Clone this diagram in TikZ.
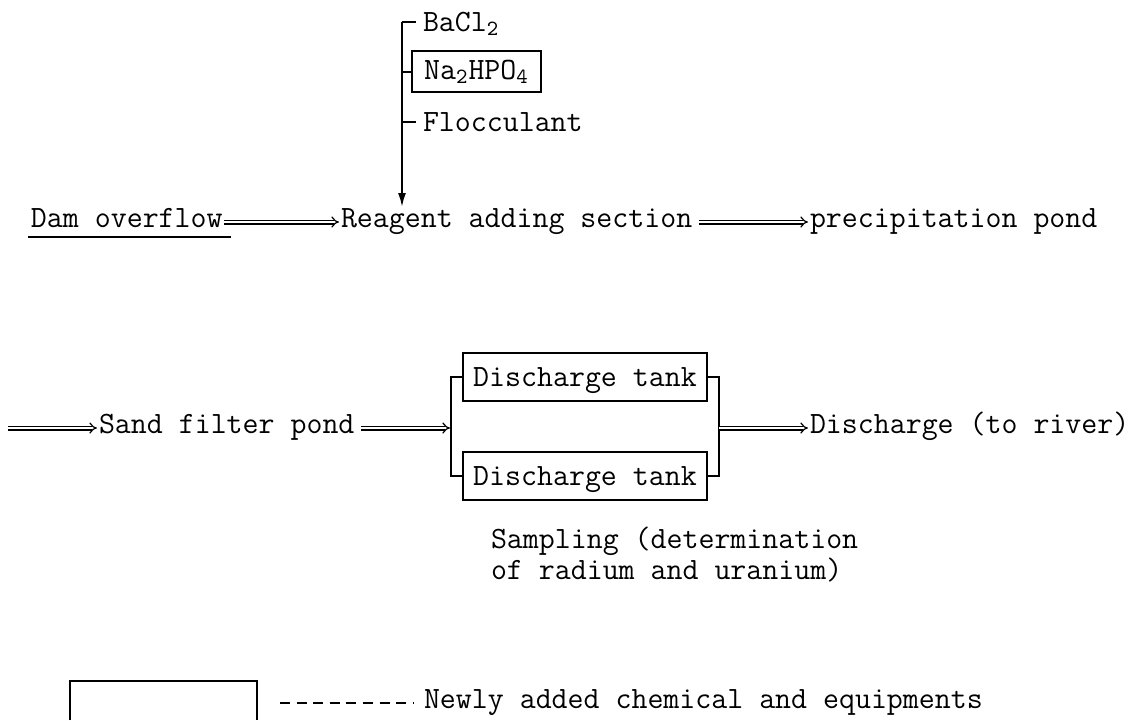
\documentclass[tikz,border=0pt]{standalone}
\usetikzlibrary{arrows.meta}

\begin{document}
\begin{tikzpicture}[x=0.5pt,y=-0.5pt,line width=1pt,
  font=\ttfamily\fontsize{15.5}{14}\selectfont,
  txt/.style={inner sep=0pt,text height=9.5pt,text depth=4.5pt,anchor=west},
  lbl/.style={inner ysep=0pt,inner xsep=3pt,text height=9.5pt,text depth=0pt,anchor=west},
  tank/.style={draw,inner sep=0pt,text height=9.5pt,text depth=0pt,
    minimum width=122pt,minimum height=24pt},
  flow/.style={double,double distance=1.3pt,line width=0.6pt,-{Implies},shorten >=0.5pt}]
  \useasboundingbox (0,0) rectangle (1142,720);

  % Reagents fed from the top
  \coordinate (feedtop) at (402,22);
  \node [lbl] (bacl) at (416,22) {BaCl\textsubscript{2}};
  \node [draw,inner sep=0pt,minimum width=64.5pt,minimum height=20.5pt] (na)
    at (476.5,71.5) {Na\textsubscript{2}HPO\textsubscript{4}};
  \node [lbl] (floc) at (416,122) {Flocculant};

  % First row
  \node [txt] (dam) at (30,222) {Dam overflow};
  \node [txt] (reagent) at (340,222) {Reagent adding section};
  \node [txt] (precip) at (809,222) {precipitation pond};

  \draw ([xshift=-1pt]dam.south west) -- ([xshift=3.5pt]dam.south east);
  \draw [flow] (dam) -- (reagent);
  \draw [flow,shorten <=3pt] (reagent) -- (precip);

  \draw (feedtop) -- (bacl.west);
  \draw (na.west) -- (na.west -| feedtop);
  \draw (floc.west) -- (floc.west -| feedtop);
  \draw [-{Latex[length=7pt,width=4pt]}] (feedtop) -- (feedtop |- reagent.north);

  % Second row
  \coordinate (srcL) at (8,428);
  \coordinate (splitL) at (451,428);
  \coordinate (joinR) at (719,428);
  \node [txt] (sand) at (98,428) {Sand filter pond};
  \node [tank] (tankA) at (585,377) {Discharge tank};
  \node [tank] (tankB) at (585,476) {Discharge tank};
  \node [txt] (river) at (809,428) {Discharge (to river)};

  \draw [flow] (srcL) -- (sand);
  \draw [flow,shorten <=3pt] (sand) -- (splitL);
  \draw (tankA.west) -| (splitL) |- (tankB.west);
  \draw (tankA.east) -| (joinR) |- (tankB.east);
  \draw [flow] (joinR) -- (river);

  \node [inner sep=0pt,anchor=north west,align=left] (sampling) at (490,526)
    {Sampling (determination\\of radium and uranium)};

  % Legend
  \draw (70,720) -- (70,681) -- (257,681) -- (257,720);
  \coordinate (dashA) at (280,703);
  \node [lbl,inner xsep=5pt] (newly) at (413,699) {Newly added chemical and equipments};
  \draw [dash pattern=on 5pt off 3.3pt] (dashA) -- (dashA -| newly.west);

\end{tikzpicture}
\end{document}
